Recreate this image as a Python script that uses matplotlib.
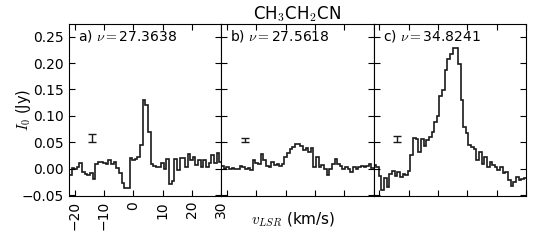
import numpy as np
import matplotlib
matplotlib.use('Agg')
import matplotlib.pyplot as plt

plt.rcParams['mathtext.fontset'] = 'cm'
plt.rcParams['font.size'] = 10

# channel grid (km/s): left edge of first channel and channel width
v_start = -22.0
dv = 0.9

# a) nu = 27.3638 GHz
flux_a = [-0.013, 0.002, -0.001, 0.003, 0.010, -0.006, -0.010, -0.012, -0.008, -0.019,
          0.008, 0.012, 0.012, 0.011, 0.008, 0.017, 0.008, 0.012, 0.001, -0.008,
          -0.028, -0.036, -0.036, 0.020, 0.017, 0.019, 0.022, 0.044, 0.130, 0.120,
          0.069, 0.008, 0.005, 0.003, 0.004, 0.010, -0.001, 0.019, -0.030, -0.023,
          0.019, -0.003, 0.021, 0.020, 0.004, 0.027, 0.017, 0.022, 0.006, 0.016,
          0.003, 0.017, 0.003, 0.011, 0.025, 0.010, 0.029, 0.013]

# b) nu = 27.5618 GHz
flux_b = [0.005, 0.000, 0.003, -0.001, 0.001, -0.001, -0.001, 0.005, 0.003, 0.000,
          0.001, -0.003, 0.016, 0.011, 0.008, 0.027, 0.016, 0.005, 0.003, 0.013,
          0.006, 0.008, 0.005, 0.008, 0.022, 0.030, 0.038, 0.041, 0.047, 0.046,
          0.043, 0.036, 0.040, 0.032, 0.040, 0.003, 0.022, 0.003, 0.007, 0.000,
          -0.013, 0.000, 0.009, 0.019, 0.008, 0.005, 0.000, 0.003, 0.000, -0.006,
          0.003, 0.000, 0.003, 0.005, 0.003, 0.005, 0.009, 0.001]

# c) nu = 34.8241 GHz
flux_c = [0.006, 0.004, -0.014, -0.040, -0.018, -0.034, -0.010, -0.004, -0.014, -0.007,
          -0.016, -0.010, -0.013, -0.004, 0.025, 0.059, 0.056, 0.032, 0.057, 0.042,
          0.054, 0.060, 0.070, 0.089, 0.099, 0.137, 0.149, 0.187, 0.207, 0.218,
          0.228, 0.228, 0.199, 0.130, 0.078, 0.067, 0.044, 0.041, 0.038, 0.016,
          0.032, 0.009, 0.022, 0.003, 0.013, 0.006, 0.003, -0.003, 0.003, -0.009,
          -0.006, -0.022, -0.032, -0.025, -0.016, -0.021, -0.019, -0.018]

labels = [r'a) $\nu=$27.3638', r'b) $\nu=$27.5618', r'c) $\nu=$34.8241']
# rms noise bars (x, y, half-height)
err_x = [-14, -14, -14]
err_y = [0.058, 0.054, 0.056]
err_h = [0.008, 0.004, 0.006]

spectra = [flux_a, flux_b, flux_c]
edges = v_start + dv * np.arange(len(flux_a) + 1)

fig, axes = plt.subplots(1, 3, figsize=(5.6, 2.4), dpi=100, sharey=True)
fig.subplots_adjust(left=0.123, right=0.939, top=0.902, bottom=0.183, wspace=0)

for i, ax in enumerate(axes):
    ax.stairs(spectra[i], edges, baseline=None, color='#1a1a1a', lw=1.2)
    ax.errorbar(err_x[i], err_y[i], yerr=err_h[i], color='#1a1a1a', capsize=3, lw=1, capthick=1)
    ax.text(0.06, 0.925, labels[i], transform=ax.transAxes, va='center', ha='left')
    ax.set_xlim(-22, 30)
    ax.set_ylim(-0.052, 0.275)
    ax.set_xticks([-20, -10, 0, 10, 20, 30])
    ax.set_yticks([-0.05, 0.0, 0.05, 0.10, 0.15, 0.20, 0.25])
    ax.tick_params(direction='in', top=True, right=True, length=4)
    if i > 0:
        ax.tick_params(labelbottom=False, labelleft=False)

axes[0].tick_params(axis='x', labelrotation=90)
axes[0].set_yticklabels(['\u22120.05', '0.00', '0.05', '0.10', '0.15', '0.20', '0.25'])
axes[0].set_xticklabels(['\u221220', '\u221210', '0', '10', '20', '30'])
axes[0].set_ylabel(r'$I_0$ (Jy)', fontsize=10.5)
axes[0].yaxis.set_label_coords(-0.235, 0.5)
axes[1].set_xlabel(r'$v_{LSR}$ (km/s)', fontsize=11)
axes[1].xaxis.set_label_coords(0.47, -0.085)
axes[1].set_title(r'CH$_\mathsf{3}$CH$_\mathsf{2}$CN', fontsize=12, pad=3)

fig.savefig('out.png', dpi=100)
